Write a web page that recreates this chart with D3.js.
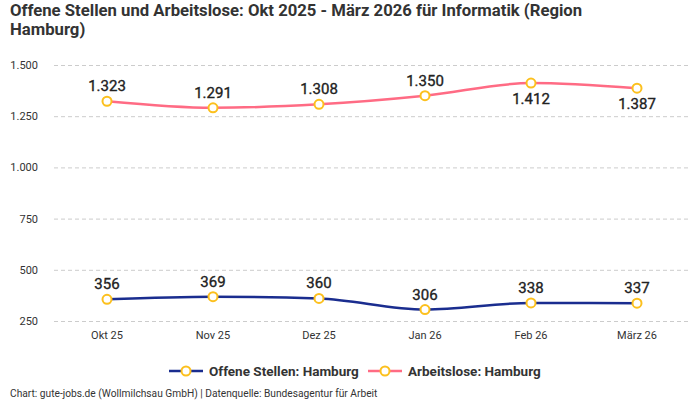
<!DOCTYPE html>
<html><head><meta charset="utf-8">
<script src="https://cdn.jsdelivr.net/npm/d3@7"></script>
<style>
body{margin:0;background:#fff;}
text{font-family:"Roboto","Noto Sans",sans-serif;}
</style></head>
<body><svg id="c" width="700" height="400"></svg>
<script>
const categories = ["Okt 25","Nov 25","Dez 25","Jan 26","Feb 26","März 26"];
const offeneStellen = [356,369,360,306,338,337];
const arbeitslose = [1323,1291,1308,1350,1412,1387];
const yTicks = [250,500,750,1000,1250,1500];
const seriesNames = ["Offene Stellen: Hamburg","Arbeitslose: Hamburg"];
const labelBelowArbeitslose = [false,false,false,false,true,true];

const svg = d3.select("#c");
const fmt = v => d3.format(",")(v).replace(/,/g,".");
const x = d3.scaleBand().domain(categories).range([54,690]);
const y = d3.scaleLinear().domain([250,1500]).range([321,65]);
const cx = d => x(d) + x.bandwidth()/2;

svg.append("text").attr("x",10).attr("y",16).attr("font-size",16.7).attr("font-weight","bold").attr("fill","#333")
  .text("Offene Stellen und Arbeitslose: Okt 2025 - März 2026 für Informatik (Region");
svg.append("text").attr("x",10).attr("y",35).attr("font-size",16.7).attr("font-weight","bold").attr("fill","#333")
  .text("Hamburg)");

// grid
const yAxis = d3.axisLeft(y).tickValues(yTicks).tickFormat(fmt).tickSize(-636).tickPadding(16);
const gy = svg.append("g").attr("transform","translate(54,0)").call(yAxis);
gy.select(".domain").remove();
gy.selectAll(".tick line").attr("stroke","#ccc").attr("stroke-dasharray","4,3");
gy.selectAll(".tick text").attr("font-size",11).attr("fill","#333").attr("x",-16);

const xAxis = d3.axisBottom(x).tickSize(0).tickPadding(10);
const gx = svg.append("g").attr("transform","translate(0,321)").call(xAxis);
gx.select(".domain").remove();
gx.selectAll(".tick text").attr("font-size",11).attr("fill","#333");

const line = d3.line().x((d,i)=>cx(categories[i])).y(d=>y(d)).curve(d3.curveMonotoneX);
const series = [
  {name:seriesNames[0], values:offeneStellen, color:"#1a2d8f", below:[false,false,false,false,false,false]},
  {name:seriesNames[1], values:arbeitslose, color:"#ff6b84", below:labelBelowArbeitslose}
];
series.forEach(s=>{
  svg.append("path").datum(s.values).attr("d",line).attr("fill","none").attr("stroke",s.color).attr("stroke-width",2.5);
  svg.append("g").selectAll("circle").data(s.values).join("circle")
    .attr("cx",(d,i)=>cx(categories[i])).attr("cy",d=>y(d)).attr("r",4.5)
    .attr("fill","#fff").attr("stroke","#fcc01e").attr("stroke-width",2);
  svg.append("g").selectAll("text").data(s.values).join("text")
    .attr("x",(d,i)=>cx(categories[i])).attr("y",(d,i)=>y(d)+(s.below[i]?21:-10))
    .attr("text-anchor","middle")
    .attr("font-size",15).attr("fill","#222").attr("stroke","#222").attr("stroke-width",0.35).text(fmt);
});

// legend
const legX = [169,368];
series.forEach((s,i)=>{
  const g = svg.append("g").attr("transform",`translate(${legX[i]},371)`);
  g.append("line").attr("x1",0).attr("x2",34).attr("stroke",s.color).attr("stroke-width",2.5);
  g.append("circle").attr("cx",17).attr("r",4.5).attr("fill","#fff").attr("stroke","#fcc01e").attr("stroke-width",2);
  g.append("text").attr("x",40).attr("y",5).attr("font-size",13.5).attr("font-weight","bold").attr("fill","#333").text(s.name);
});

svg.append("text").attr("x",10).attr("y",397).attr("font-size",10.2).attr("fill","#333")
  .text("Chart: gute-jobs.de (Wollmilchsau GmbH) | Datenquelle: Bundesagentur für Arbeit");
</script></body></html>
